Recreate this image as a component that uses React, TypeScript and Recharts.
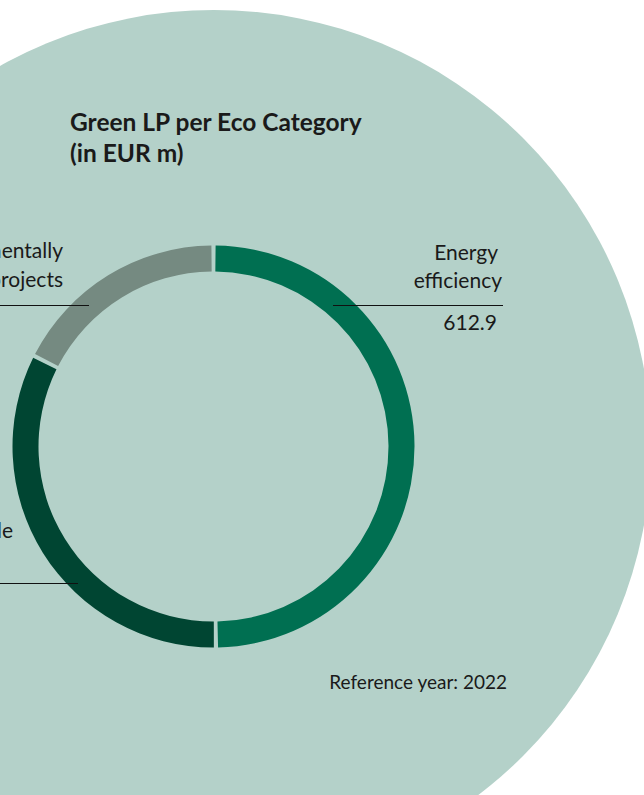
import React from "react";
import { PieChart, Pie, Cell } from "recharts";

const CATEGORIES = ["Energy efficiency", "Renewable energy", "Environmentally friendly projects"];
const VALUES = [612.9, 400.2, 213.4];
const LABEL_LINES = [
  ["Energy", "efficiency"],
  ["Renewable", "energy"],
  ["Environmentally", "friendly projects"],
];

const BG = "#b4d1c9";
const COLORS = ["#006f51", "#004532", "#758a81"];
const INK = "#1a1a1a";
const FONT = "Lato, 'Noto Sans', sans-serif";

const W = 644, H = 795;
const CX = 213.5, CY = 446.5;

// where each label block sits (text anchor x, baselines, rule)
const LAYOUT = [
  { anchor: "end", x: [498, 502], value: { x: 497, anchor: "end" }, y: [260, 288], ruleY: 305.5, ruleX: [333, 503], valueY: 330 },
  { anchor: "end", x: [13, -20], value: { x: -90, anchor: "start" }, y: [538, 566], ruleY: 583.5, ruleX: [-100, 78], valueY: 608 },
  { anchor: "end", x: [63, 63], value: { x: -110, anchor: "start" }, y: [258, 287], ruleY: 305.5, ruleX: [-100, 89], valueY: 330 },
];

const data = CATEGORIES.map((name, i) => ({ name, value: VALUES[i] }));

const renderLabel = (props: any) => {
  const { index, value } = props;
  const l = LAYOUT[index];
  const lines = LABEL_LINES[index];
  return (
    <g key={`lbl-${index}`}>
      {lines.map((t, j) => (
        <text key={j} x={l.x[j]} y={l.y[j]} textAnchor={l.anchor} fill={INK}
          style={{ fontFamily: FONT, fontSize: 21 }}>
          {t}
        </text>
      ))}
      <line x1={l.ruleX[0]} x2={l.ruleX[1]} y1={l.ruleY} y2={l.ruleY} stroke="#111" strokeWidth={1} />
      <text x={l.value.x} y={l.valueY} textAnchor={l.value.anchor} fill={INK}
        style={{ fontFamily: FONT, fontSize: 21 }}>
        {value.toFixed(1)}
      </text>
    </g>
  );
};

export default function App() {
  return (
    <div style={{ position: "absolute", left: 0, top: 0, width: W, height: H,
      overflow: "hidden", background: "#fff", fontFamily: FONT }}>
      {/* big background disc, same centre as the ring */}
      <div style={{ position: "absolute", left: CX - 437, top: CY - 437,
        width: 874, height: 874, borderRadius: "50%", background: BG }} />
      <div style={{ position: "absolute", left: 70, top: 106, fontSize: 24.5,
        fontWeight: 700, lineHeight: "31px", color: INK, whiteSpace: "nowrap" }}>
        Green LP per Eco Category
        <br />
        (in EUR m)
      </div>
      <div style={{ position: "absolute", right: W - 507, top: 670, fontSize: 19,
        color: INK, whiteSpace: "nowrap" }}>
        Reference year: 2022
      </div>
      <div style={{ position: "absolute", left: 0, top: 0 }}>
        <PieChart width={W} height={H} margin={{ top: 0, right: 0, bottom: 0, left: 0 }}
          style={{ overflow: "visible" }}>
          <Pie data={data} dataKey="value" nameKey="name" cx={CX} cy={CY}
            innerRadius={175} outerRadius={201} startAngle={89.4} endAngle={-270.6}
            paddingAngle={1.2} stroke="none" label={renderLabel} labelLine={false}
            isAnimationActive={false}>
            {data.map((d, i) => (
              <Cell key={d.name} fill={COLORS[i]} />
            ))}
          </Pie>
        </PieChart>
      </div>
    </div>
  );
}
